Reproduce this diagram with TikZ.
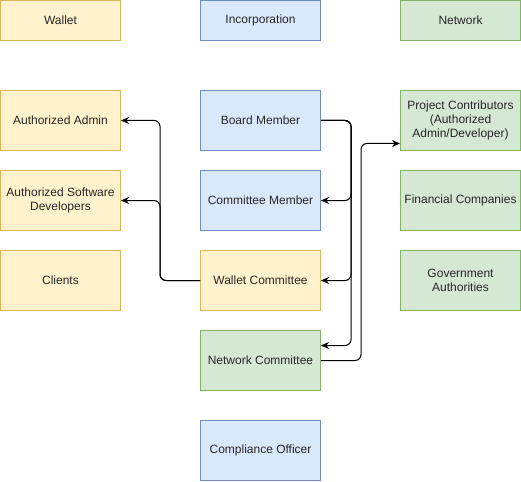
\documentclass[tikz,border=0pt]{standalone}
\usepackage{fontspec}
\setmainfont{Liberation Sans}
\usetikzlibrary{arrows.meta,calc}
\definecolor{yfill}{HTML}{FFF2CC}\definecolor{ydraw}{HTML}{D6B656}
\definecolor{bfill}{HTML}{DAE8FC}\definecolor{bdraw}{HTML}{6C8EBF}
\definecolor{gfill}{HTML}{D5E8D4}\definecolor{gdraw}{HTML}{82B366}
\begin{document}
\begin{tikzpicture}[x=1pt,y=-1pt,
  box/.style={draw,line width=1pt,minimum width=120pt,minimum height=60pt,inner sep=2pt,
    align=center,font=\fontsize{12pt}{14pt}\selectfont,text=black!85},
  hdr/.style={box,minimum height=40pt},
  ybox/.style={fill=yfill,draw=ydraw},
  bbox/.style={fill=bfill,draw=bdraw},
  gbox/.style={fill=gfill,draw=gdraw},
  arr/.style={-{Stealth[length=8pt,width=7pt]},line width=1pt,rounded corners=6pt}]
\useasboundingbox (0,0) rectangle (521,481);
\node[hdr,ybox] (wallet) at (60.5,20.5) {Wallet};
\node[hdr,bbox] (incorp) at (260.5,20.5) {Incorporation};
\node[hdr,gbox] (network) at (460.5,20.5) {Network};
\node[box,ybox] (aadmin) at (60.5,120.5) {Authorized Admin};
\node[box,ybox] (asd) at (60.5,200.5) {Authorized Software\\Developers};
\node[box,ybox] (clients) at (60.5,280.5) {Clients};
\node[box,bbox] (board) at (260.5,120.5) {Board Member};
\node[box,bbox] (cm) at (260.5,200.5) {Committee Member};
\node[box,ybox] (wc) at (260.5,280.5) {Wallet Committee};
\node[box,gbox] (nc) at (260.5,360.5) {Network Committee};
\node[box,bbox] (co) at (260.5,450.5) {Compliance Officer};
\node[box,gbox] (pc) at (460.5,120.5) {Project Contributors\\(Authorized\\Admin/Developer)};
\node[box,gbox] (fc) at (460.5,200.5) {Financial Companies};
\node[box,gbox] (ga) at (460.5,280.5) {Government\\Authorities};
\draw[arr] (board.east) -- ++(30,0) |- (cm.east);
\draw[arr] (board.east) -- ++(30,0) |- (wc.east);
\draw[arr] (board.east) -- ++(30,0) |- ($(nc.east)+(0,-15)$);
\draw[arr] (nc.east) -- ++(40,0) |- ($(pc.west)+(0,23)$);
\draw[arr] (wc.west) -- ++(-40,0) |- (aadmin.east);
\draw[arr] (wc.west) -- ++(-40,0) |- (asd.east);
\end{tikzpicture}
\end{document}
